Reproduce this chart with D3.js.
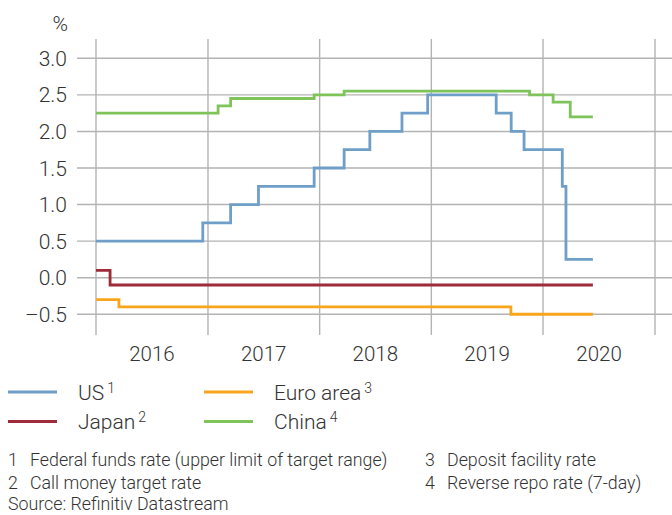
<!DOCTYPE html>
<html>
<head>
<meta charset="utf-8">
<script src="https://cdn.jsdelivr.net/npm/d3@7"></script>
<style>
  html, body { margin: 0; padding: 0; background: #fff; }
  svg { display: block; }
  svg text { font-family: Roboto, sans-serif; font-weight: 300; fill: #333; }
</style>
</head>
<body>
<div class="center"></div>
<script>
// policy rates, step changes [date, rate]
var usRates = [
  ["2016-01-01", 0.5], ["2016-12-15", 0.75], ["2017-03-16", 1.0], ["2017-06-15", 1.25],
  ["2017-12-14", 1.5], ["2018-03-22", 1.75], ["2018-06-14", 2.0], ["2018-09-27", 2.25],
  ["2018-12-20", 2.5], ["2019-08-01", 2.25], ["2019-09-19", 2.0], ["2019-10-31", 1.75],
  ["2020-03-04", 1.25], ["2020-03-16", 0.25], ["2020-06-12", 0.25]
];
var japanRates = [["2016-01-01", 0.1], ["2016-02-16", -0.1], ["2020-06-12", -0.1]];
var euroRates = [["2016-01-01", -0.3], ["2016-03-16", -0.4], ["2019-09-18", -0.5], ["2020-06-12", -0.5]];
var chinaRates = [
  ["2016-01-01", 2.25], ["2017-02-03", 2.35], ["2017-03-16", 2.45], ["2017-12-14", 2.5],
  ["2018-03-22", 2.55], ["2019-11-18", 2.5], ["2020-02-03", 2.4], ["2020-03-30", 2.2],
  ["2020-06-12", 2.2]
];
var years = [2016, 2017, 2018, 2019, 2020];
var yTicks = [-0.5, 0, 0.5, 1.0, 1.5, 2.0, 2.5, 3.0];

var series = [
  {name: "US", note: "1", color: "#6f9fc8", data: usRates},
  {name: "Japan", note: "2", color: "#9e2a3a", data: japanRates},
  {name: "Euro area", note: "3", color: "#f8a51c", data: euroRates},
  {name: "China", note: "4", color: "#7fc35b", data: chinaRates}
];
var footnotes = [
  ["1", "Federal funds rate (upper limit of target range)"],
  ["2", "Call money target rate"],
  ["3", "Deposit facility rate"],
  ["4", "Reverse repo rate (7-day)"]
];

var width = 672, height = 515;
var parse = d3.timeParse("%Y-%m-%d");

var x = d3.scaleTime()
    .domain([new Date(2016, 0, 1), new Date(2021, 0, 1)])
    .range([96, 655]);
var y = d3.scaleLinear().domain([0, 3]).range([277.7, 58.3]);

var svg = d3.select(".center").append("svg")
    .attr("width", width)
    .attr("height", height);

// grid
var grid = svg.append("g").attr("stroke", "#b3b3b3").attr("stroke-width", 1.4);
grid.selectAll(".hg").data(yTicks).enter().append("line")
    .attr("x1", 77).attr("x2", width)
    .attr("y1", d => y(d)).attr("y2", d => y(d));
grid.selectAll(".vg").data(years.concat([2021])).enter().append("line")
    .attr("x1", d => x(new Date(d, 0, 1))).attr("x2", d => x(new Date(d, 0, 1)))
    .attr("y1", 39).attr("y2", 335);

// y labels
svg.selectAll(".yl").data(yTicks).enter().append("text")
    .attr("x", 67).attr("y", d => y(d) + 7.5)
    .attr("text-anchor", "end")
    .style("font-size", "21px")
    .text(d => (d < 0 ? "\u2013" : "") + d3.format(".1f")(Math.abs(d)));

svg.append("text").attr("x", 68).attr("y", 31).attr("text-anchor", "end")
    .style("font-size", "21px").text("%");

// x labels
svg.selectAll(".xl").data(years).enter().append("text")
    .attr("x", d => x(new Date(d, 6, 2)))
    .attr("y", 360.5)
    .attr("text-anchor", "middle")
    .style("font-size", "20.5px")
    .text(d => d);

// lines
var line = d3.line()
    .curve(d3.curveStepAfter)
    .x(d => x(parse(d[0])))
    .y(d => y(d[1]));

svg.selectAll(".series").data(series).enter().append("path")
    .attr("fill", "none")
    .attr("stroke", d => d.color)
    .attr("stroke-width", 2.8)
    .attr("d", d => line(d.data));

// legend
var leg = svg.selectAll(".leg").data(series).enter().append("g")
    .attr("transform", (d, i) => "translate(" + (i < 2 ? 8 : 204) + "," + (i % 2 ? 421.5 : 392) + ")");
leg.append("line").attr("x1", 0).attr("x2", 49)
    .attr("stroke", d => d.color).attr("stroke-width", 2.8);
var lt = leg.append("text").attr("x", 70).attr("y", 7.5).style("font-size", "21px");
lt.append("tspan").text(d => d.name);
lt.append("tspan").attr("dx", 3).attr("dy", -7).style("font-size", "14px").text(d => d.note);

// footnotes
var fn = svg.selectAll(".fn").data(footnotes).enter().append("g")
    .attr("transform", (d, i) => "translate(" + (i < 2 ? 8 : 425) + "," + (i % 2 ? 488.5 : 465.5) + ")");
fn.append("text").attr("x", 0).style("font-size", "17.8px").text(d => d[0]);
fn.append("text").attr("x", 22).style("font-size", "17.8px").text(d => d[1]);

svg.append("text").attr("x", 8).attr("y", 510).style("font-size", "17.8px")
    .text("Source: Refinitiv Datastream");
</script>
</body>
</html>
